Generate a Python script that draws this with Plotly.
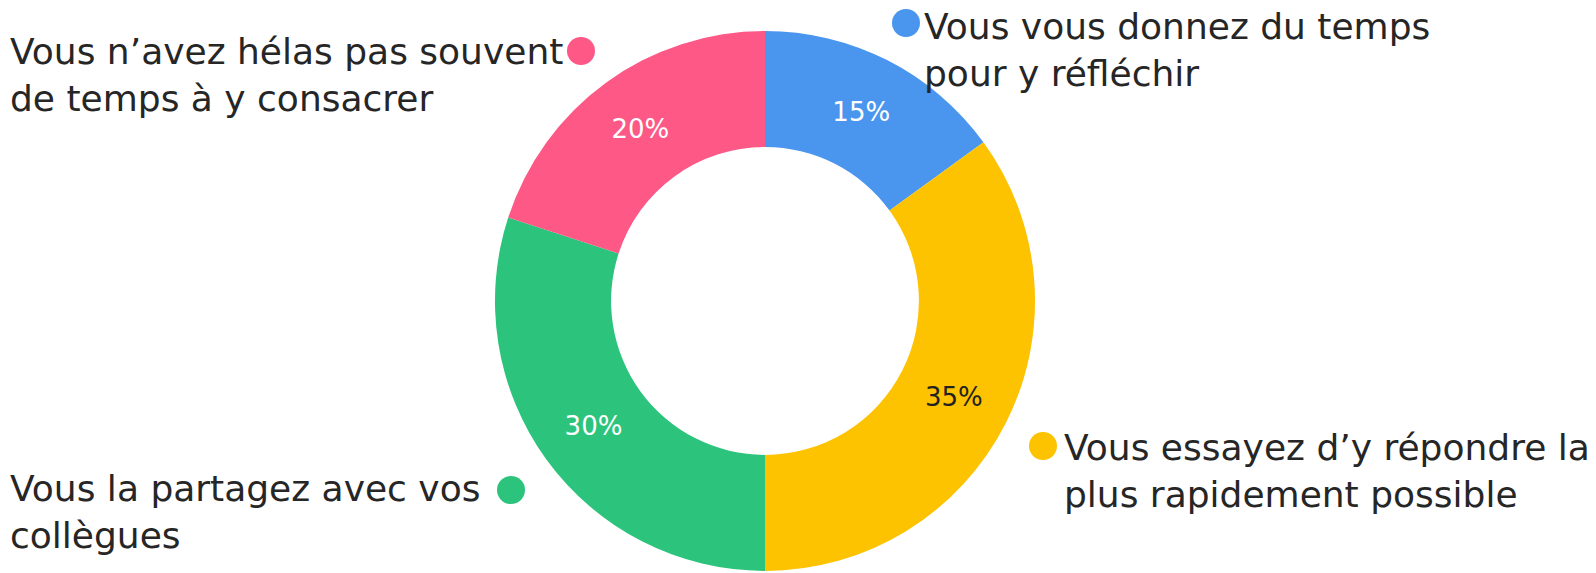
import plotly.graph_objects as go

# Data
categories = [
    "Vous vous donnez du temps pour y réfléchir",
    "Vous essayez d’y répondre la plus rapidement possible",
    "Vous la partagez avec vos collègues",
    "Vous n’avez hélas pas souvent de temps à y consacrer",
]
values = [15, 35, 30, 20]
colors = ["#4A96EE", "#FDC200", "#2CC47C", "#FD5886"]
text_colors = ["white", "#222222", "white", "white"]

W, H = 1596, 573
FONT = "DejaVu Sans"

fig = go.Figure(go.Pie(
    labels=categories,
    values=values,
    sort=False,
    direction="clockwise",
    rotation=0,
    hole=0.57,
    marker=dict(colors=colors, line=dict(width=0)),
    texttemplate="%{value}%",
    textposition="inside",
    insidetextorientation="horizontal",
    textfont=dict(family=FONT, size=26, color=text_colors),
    domain=dict(x=[492 / W, 1038 / W], y=[0.0035, 0.946]),
    showlegend=False,
))

def px(x):
    return x / W

def py(y):
    return 1 - y / H

# Label blocks: (text, text-left x, center y, dot cx, dot cy, color)
labels = [
    ("Vous n’avez hélas pas souvent<br>de temps à y consacrer", 8, 75, 581, 51, colors[3]),
    ("Vous vous donnez du temps<br>pour y réfléchir", 922, 50, 906, 23, colors[0]),
    ("Vous essayez d’y répondre la<br>plus rapidement possible", 1062, 471, 1043, 446, colors[1]),
    ("Vous la partagez avec vos<br>collègues", 8, 512, 511, 490, colors[2]),
]

for text, tx, ty, cx, cy, col in labels:
    fig.add_annotation(
        x=px(tx), y=py(ty), xref="paper", yref="paper",
        text=text, showarrow=False, xanchor="left", yanchor="middle",
        align="left",
        font=dict(family=FONT, size=36, color="#262626"),
    )
    r = 14
    fig.add_shape(
        type="circle", xref="paper", yref="paper",
        x0=px(cx - r), x1=px(cx + r), y0=py(cy + r), y1=py(cy - r),
        fillcolor=col, line=dict(width=0),
    )

fig.update_layout(
    width=W, height=H,
    margin=dict(l=0, r=0, t=0, b=0),
    paper_bgcolor="white",
    plot_bgcolor="white",
)

fig.write_html(
    "out.html",
    config={"displayModeBar": False},
    post_script="document.body.style.margin='0';",
)
